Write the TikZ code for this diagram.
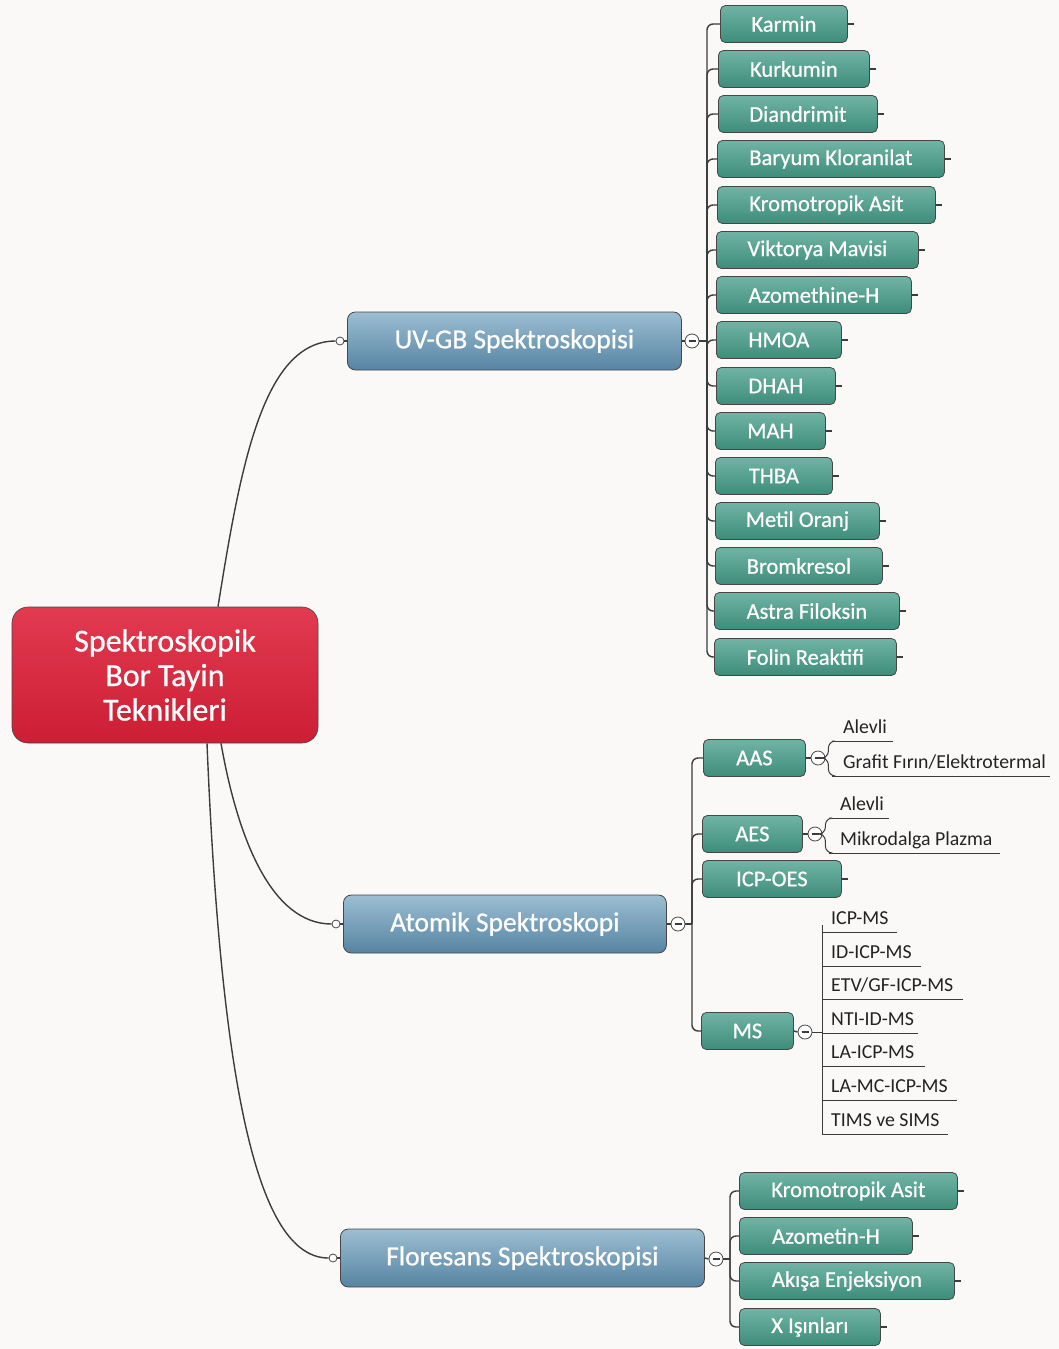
\documentclass[tikz,border=0pt]{standalone}
\usepackage{fontspec}
\setmainfont{Carlito}
\newfontfamily\heavyfont{Carlito}[FakeBold=0.7]
\definecolor{bgc}{RGB}{251,248,248}
\definecolor{edge}{RGB}{70,70,70}
\definecolor{conncol}{RGB}{60,60,60}
\definecolor{rootTop}{RGB}{226,58,80}
\definecolor{rootBot}{RGB}{204,30,52}
\definecolor{blueTop}{RGB}{156,190,210}
\definecolor{blueBot}{RGB}{86,132,162}
\definecolor{leafTop}{RGB}{112,180,164}
\definecolor{leafBot}{RGB}{62,140,122}
\definecolor{subtxt}{RGB}{35,35,35}
\newcommand\rootfont{\heavyfont\fontsize{32}{34.5}\selectfont}
\newcommand\bluefont{\heavyfont\fontsize{27.5}{30}\selectfont}
\newcommand\leaffont{\heavyfont\fontsize{22.5}{26}\selectfont}
\newcommand\subfont{\fontsize{19.8}{23}\selectfont}
\newcommand\ulbox[3]{\makebox[#1pt][l]{\hspace{#2pt}#3}}
\tikzset{
  conn/.style={draw=conncol, line width=1.4pt},
  rootbox/.style={draw=edge, line width=0.6pt, rounded corners=16pt, top color=rootTop, bottom color=rootBot,
    minimum width=306pt, minimum height=136pt, text=white, font=\rootfont, align=center},
  mainbox/.style={draw=edge, line width=0.8pt, rounded corners=8pt, top color=blueTop, bottom color=blueBot,
    minimum height=58pt, text=white, font=\bluefont, anchor=west},
  leaf/.style={draw=edge, line width=0.8pt, rounded corners=5pt, top color=leafTop, bottom color=leafBot,
    minimum height=37pt, text=white, font=\leaffont, anchor=west, inner xsep=0pt},
  subitem/.style={anchor=south west, inner xsep=0pt, inner ysep=3pt, text depth=4pt, text=subtxt, font=\subfont},
  knob/.style={circle, draw=edge, fill=white, line width=0.8pt, minimum size=8pt, inner sep=0pt},
  fold/.style={circle, draw=edge, fill=white, line width=0.8pt, minimum size=14pt, inner sep=0pt,
    path picture={\draw[line width=1.2pt, conncol] ([xshift=-3.5pt]path picture bounding box.center) -- ([xshift=3.5pt]path picture bounding box.center);}},
}
\begin{document}
\begin{tikzpicture}[x=1pt,y=-1pt]
\fill[bgc] (0,0) rectangle (1059,1349);
\useasboundingbox (0,0) rectangle (1059,1349);

% central topic
\node[rootbox] (root) at (165,675) {Spektroskopik\\Bor Tayin\\Teknikleri};

% main topics
\node[mainbox, minimum width=334pt] (uv) at (347,341) {UV-GB Spektroskopisi};
\node[mainbox, minimum width=323pt] (at) at (343,924) {Atomik Spektroskopi};
\node[mainbox, minimum width=364pt] (fl) at (340,1258) {Floresans Spektroskopisi};

\node[knob] (uvk) at (340,341) {};
\node[knob] (atk) at (336,924) {};
\node[knob] (flk) at (333,1258) {};
\node[fold] (uvc) at (692,341) {};
\node[fold] (atc) at (678,924) {};
\node[fold] (flc) at (716,1259) {};

% curved links from the central topic
\draw[conn] ([xshift=53pt]root.north) .. controls (240,470) and (262,341) .. (uvk.west);
\draw[conn] ([xshift=56pt]root.south) .. controls (238,840) and (272,924) .. (atk.west);
\draw[conn] ([xshift=42pt]root.south) .. controls (222,1110) and (262,1258) .. (flk.west);
\foreach \k/\m in {uvk/uv, atk/at, flk/fl} \draw[conn] (\k.east) -- (\m.west);
\draw[conn] (uv.east) -- (uvc.west);
\draw[conn] (at.east) -- (atc.west);
\draw[conn] (fl.east) -- (flc.west);

% UV-GB reagents
\node[leaf, minimum width=127pt] (u1) at (720,24) {Karmin};
\node[leaf, minimum width=151pt] (u2) at (718,69) {Kurkumin};
\node[leaf, minimum width=159pt] (u3) at (718,114) {Diandrimit};
\node[leaf, minimum width=227pt] (u4) at (717,159) {Baryum Kloranilat};
\node[leaf, minimum width=218pt] (u5) at (717,205) {Kromotropik Asit};
\node[leaf, minimum width=202pt] (u6) at (716,250) {Viktorya Mavisi};
\node[leaf, minimum width=195pt] (u7) at (716,295) {Azomethine-H};
\node[leaf, minimum width=125pt] (u8) at (716,340) {HMOA};
\node[leaf, minimum width=119pt] (u9) at (716,386) {DHAH};
\node[leaf, minimum width=110pt] (u10) at (715,431) {MAH};
\node[leaf, minimum width=117pt] (u11) at (715,476) {THBA};
\node[leaf, minimum width=164pt] (u12) at (715,521) {Metil Oranj};
\node[leaf, minimum width=167pt] (u13) at (715,566) {Bromkresol};
\node[leaf, minimum width=185pt] (u14) at (714,611) {Astra Filoksin};
\node[leaf, minimum width=182pt] (u15) at (714,657) {Folin Reaktifi};
\coordinate (uvt) at (707,341);
\draw[conn] (uvc.east) -- (uvt);
\foreach \i in {1,...,15} {
  \draw[conn, rounded corners=6pt] (uvt) |- (u\i.west);
  \draw[conn] (u\i.east) -- ++(6,0);
}

% atomic techniques
\node[leaf, minimum width=102pt] (a1) at (703,758) {AAS};
\node[leaf, minimum width=100pt] (a2) at (702,834) {AES};
\node[leaf, minimum width=139pt] (a3) at (702,879) {ICP-OES};
\node[leaf, minimum width=92pt] (a4) at (701,1031) {MS};
\coordinate (att) at (692,924);
\draw[conn] (atc.east) -- (att);
\foreach \i in {1,...,4} \draw[conn, rounded corners=6pt] (att) |- (a\i.west);
\draw[conn] (a3.east) -- ++(6,0);

\node[fold] (aasc) at (818,758) {};
\node[fold] (aesc) at (815,834) {};
\node[fold] (msc) at (805,1032) {};
\draw[conn] (a1.east) -- (aasc.west);
\draw[conn] (a2.east) -- (aesc.west);
\draw[conn] (a4.east) -- (msc.west);

% AAS variants
\node[subitem] (s1) at (832,741) {\ulbox{61}{11}{Alevli}};
\node[subitem] (s2) at (832,776) {\ulbox{218}{11}{Grafit Fırın/Elektrotermal}};
% AES variants
\node[subitem] (s3) at (829,818) {\ulbox{60}{11}{Alevli}};
\node[subitem] (s4) at (829,853) {\ulbox{171}{11}{Mikrodalga Plazma}};
\foreach \s in {s1,s2} \draw[conn, line width=1pt, rounded corners=7pt] (aasc.east) -- ++(3,0) |- (\s.south west);
\foreach \s in {s3,s4} \draw[conn, line width=1pt, rounded corners=7pt] (aesc.east) -- ++(3,0) |- (\s.south west);
\foreach \s in {s1,s2,s3,s4} \draw[conn, line width=1pt] (\s.south west) -- (\s.south east);

% MS variants
\node[subitem] (m1) at (822,932) {\ulbox{75}{9}{ICP-MS}};
\node[subitem] (m2) at (822,966) {\ulbox{99}{9}{ID-ICP-MS}};
\node[subitem] (m3) at (822,999) {\ulbox{141}{9}{ETV/GF-ICP-MS}};
\node[subitem] (m4) at (822,1033) {\ulbox{96}{9}{NTI-ID-MS}};
\node[subitem] (m5) at (822,1066) {\ulbox{103}{9}{LA-ICP-MS}};
\node[subitem] (m6) at (822,1100) {\ulbox{135}{9}{LA-MC-ICP-MS}};
\node[subitem] (m7) at (822,1134) {\ulbox{126}{9}{TIMS ve SIMS}};
\coordinate (mst) at (822,1032);
\draw[conn, line width=1pt] (msc.east) -- (mst);
\foreach \i in {1,...,7} {
  \draw[conn, line width=1pt, rounded corners=7pt] (mst) |- (m\i.south west);
  \draw[conn, line width=1pt] (m\i.south west) -- (m\i.south east);
}

% fluorescence methods
\node[leaf, minimum width=218pt] (f1) at (739,1191) {Kromotropik Asit};
\node[leaf, minimum width=173pt] (f2) at (739,1236) {Azometin-H};
\node[leaf, minimum width=215pt] (f3) at (739,1281) {Akışa Enjeksiyon};
\node[leaf, minimum width=141pt] (f4) at (739,1327) {X Işınları};
\coordinate (flt) at (730,1259);
\draw[conn] (flc.east) -- (flt);
\foreach \i in {1,...,4} {
  \draw[conn, rounded corners=6pt] (flt) |- (f\i.west);
  \draw[conn] (f\i.east) -- ++(6,0);
}
\end{tikzpicture}
\end{document}
